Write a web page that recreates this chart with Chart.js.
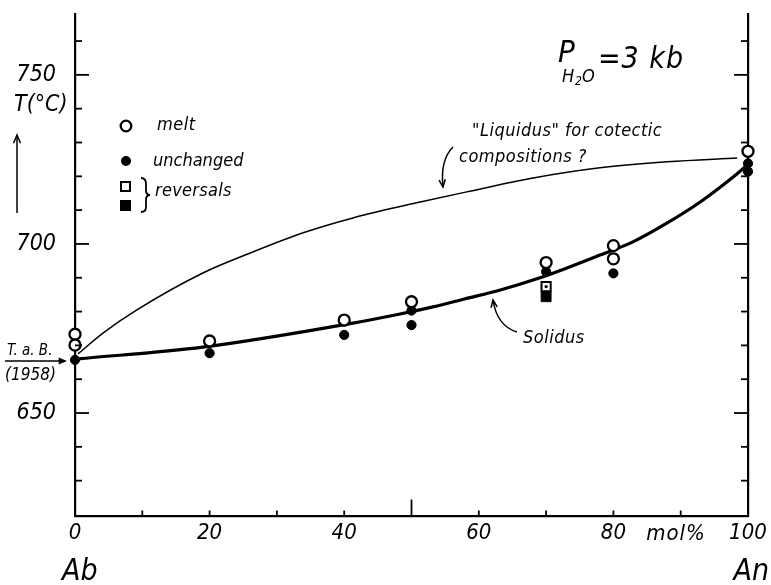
<!DOCTYPE html>
<html><head><meta charset="utf-8">
<script src="https://cdn.jsdelivr.net/npm/chart.js@4.4.0/dist/chart.umd.min.js"></script>
<style>html,body{margin:0;padding:0;background:#fff;}</style>
</head><body>
<canvas id="c" width="771" height="585"></canvas>
<script>
// ---- data (mol% An, temperature °C) ----
const xTickValues = [0, 20, 40, 60, 80, 100];
const xTickLabels = ['0', '20', '40', '60', '80', '100'];
const xMinorTicks = [10, 20, 30, 40, 50, 60, 70, 80, 90];
const xLongTicks = [50];
const yTickValues = [650, 700, 750];
const yTickLabels = ['650', '700', '750'];
const yMinorTicks = [630, 640, 650, 660, 670, 680, 690, 700, 710, 720, 730, 740, 750, 760];

const liquidusX = [0.45, 4.2, 9.2, 19.0, 26.4, 33.9, 41.3, 51.3, 58.2, 68.1, 78.0, 88.0, 98.4];
const liquidusT = [667.5, 673.7, 680.5, 691.4, 697.6, 703.3, 707.7, 712.4, 715.4, 719.5, 722.5, 724.3, 725.4];

const solidusX = [0.45, 19.0, 41.3, 48.3, 53.2, 58.0, 63.2, 69.1, 73.1, 78.0, 82.9, 88.0, 92.9, 97.8, 99.6];
const solidusT = [666.0, 669.5, 676.6, 679.3, 681.4, 683.8, 686.4, 690.0, 692.9, 696.7, 700.6, 706.2, 712.4, 719.8, 722.8];

const meltX = [0, 0, 20, 40, 50, 70, 80, 80, 100];
const meltT = [673.3, 670.1, 671.3, 677.5, 682.9, 694.5, 699.5, 695.6, 727.4];

const unchangedX = [0, 20, 40, 50, 50, 70, 80, 100, 100];
const unchangedT = [665.7, 667.7, 673.1, 680.3, 676.0, 691.8, 691.3, 723.8, 721.4];

const reversalOpenX = [70];
const reversalOpenT = [687.4];
const reversalFilledX = [70];
const reversalFilledT = [684.4];

const yMin = 619.4, yMax = 768;

const FF = "'DejaVu Sans Condensed','DejaVu Sans',sans-serif";
const pts = (xs, ys) => xs.map((x, i) => ({x: x, y: ys[i]}));

function txt(ctx, s, x, y, size, align, ls) {
  ctx.save();
  ctx.font = 'italic ' + size + 'px ' + FF;
  ctx.letterSpacing = (ls || 0) + 'px';
  ctx.textAlign = align || 'left';
  ctx.textBaseline = 'middle';
  ctx.fillStyle = '#000';
  ctx.fillText(s, x, y);
  ctx.restore();
}
function arrowHead(ctx, x, y, ang, len, filled) {
  ctx.beginPath();
  ctx.moveTo(x - len * Math.cos(ang - 0.4), y - len * Math.sin(ang - 0.4));
  ctx.lineTo(x, y);
  ctx.lineTo(x - len * Math.cos(ang + 0.4), y - len * Math.sin(ang + 0.4));
  if (filled) { ctx.closePath(); ctx.fill(); } else ctx.stroke();
}
function curveArrow(ctx, x0, y0, cx, cy, x1, y1) {
  ctx.beginPath();
  ctx.moveTo(x0, y0);
  ctx.quadraticCurveTo(cx, cy, x1, y1);
  ctx.stroke();
  arrowHead(ctx, x1, y1, Math.atan2(y1 - cy, x1 - cx), 8, false);
}

const decor = {
  id: 'decor',
  afterDraw(chart) {
    const ctx = chart.ctx, a = chart.chartArea;
    const xs = chart.scales.x, ys = chart.scales.y;
    ctx.save();
    ctx.strokeStyle = '#000'; ctx.fillStyle = '#000';
    // inward tick marks
    ctx.lineWidth = 1.8;
    yMinorTicks.forEach(v => {
      const py = ys.getPixelForValue(v);
      const L = yTickValues.includes(v) ? 14 : 7;
      ctx.beginPath(); ctx.moveTo(a.left, py); ctx.lineTo(a.left + L, py); ctx.stroke();
      ctx.beginPath(); ctx.moveTo(a.right, py); ctx.lineTo(a.right - L, py); ctx.stroke();
    });
    xMinorTicks.forEach(v => {
      const px = xs.getPixelForValue(v);
      const L = xLongTicks.includes(v) ? 17 : 6;
      ctx.beginPath(); ctx.moveTo(px, a.bottom); ctx.lineTo(px, a.bottom - L); ctx.stroke();
    });

    // axis annotations
    txt(ctx, 'T(°C)', 14, 105, 23, 'left', 0);
    ctx.lineWidth = 1.5;
    ctx.beginPath(); ctx.moveTo(17, 213); ctx.lineTo(17, 136); ctx.stroke();
    arrowHead(ctx, 17, 135, -Math.PI / 2, 9, false);
    txt(ctx, 'mol%', 676, 534, 22, 'center', 1);
    txt(ctx, 'Ab', 62, 572, 30, 'left', 0);
    txt(ctx, 'An', 769, 572, 30, 'right', 0);

    // T.a.B. (1958)
    txt(ctx, 'T. a. B.', 7, 351, 15, 'left', 0);
    txt(ctx, '(1958)', 5, 376, 17, 'left', 0);
    ctx.lineWidth = 1.5;
    ctx.beginPath(); ctx.moveTo(5, 361); ctx.lineTo(62, 361); ctx.stroke();
    arrowHead(ctx, 67, 361, 0, 9, true);

    // P_H2O = 3 kb
    txt(ctx, 'P', 558, 54, 31, 'left', 0);
    txt(ctx, 'H', 562, 77, 18, 'left', 0);
    txt(ctx, '2', 575, 82, 12, 'left', 0);
    txt(ctx, 'O', 582, 77, 18, 'left', 0);
    txt(ctx, '=3 kb', 598, 60, 30, 'left', 1);

    // legend
    ctx.lineWidth = 2.3;
    ctx.fillStyle = '#fff';
    ctx.beginPath(); ctx.arc(126, 126, 5.3, 0, Math.PI * 2); ctx.fill(); ctx.stroke();
    ctx.fillStyle = '#000';
    ctx.beginPath(); ctx.arc(126, 161, 5, 0, Math.PI * 2); ctx.fill();
    ctx.lineWidth = 2;
    ctx.strokeRect(121, 182, 9, 9);
    ctx.fillRect(120, 200, 11, 11);
    ctx.lineWidth = 1.8;
    ctx.beginPath();
    ctx.moveTo(141, 178);
    ctx.quadraticCurveTo(146, 178, 146, 184);
    ctx.lineTo(146, 190);
    ctx.quadraticCurveTo(146, 195, 150, 195);
    ctx.quadraticCurveTo(146, 195, 146, 200);
    ctx.lineTo(146, 207);
    ctx.quadraticCurveTo(146, 212, 141, 212);
    ctx.stroke();
    txt(ctx, 'melt', 157, 125, 18, 'left', 0.5);
    txt(ctx, 'unchanged', 153, 161, 18, 'left', 0);
    txt(ctx, 'reversals', 155, 191, 18, 'left', 0.3);

    // curve labels
    txt(ctx, '"Liquidus" for cotectic', 472, 131, 18, 'left', 0.5);
    txt(ctx, 'compositions ?', 459, 157, 18, 'left', 0.5);
    ctx.lineWidth = 1.5;
    curveArrow(ctx, 453, 147, 440, 160, 443, 187);
    txt(ctx, 'Solidus', 523, 338, 18, 'left', 0.5);
    curveArrow(ctx, 517, 332, 497, 326, 493, 300);
    ctx.restore();
  }
};

new Chart(document.getElementById('c'), {
  type: 'scatter',
  data: {
    datasets: [
      {label: 'reversal dot', data: pts(reversalOpenX, reversalOpenT), pointStyle: 'circle', pointRadius: 1.6,
       backgroundColor: '#000', borderColor: '#000', borderWidth: 0, order: 0, clip: false},
      {label: 'melt', data: pts(meltX, meltT), pointStyle: 'circle', pointRadius: 5.5,
       backgroundColor: '#fff', borderColor: '#000', borderWidth: 2.3, order: 1, clip: false},
      {label: 'unchanged', data: pts(unchangedX, unchangedT), pointStyle: 'circle', pointRadius: 4.6,
       backgroundColor: '#000', borderColor: '#000', borderWidth: 1, order: 1, clip: false},
      {label: 'reversal open', data: pts(reversalOpenX, reversalOpenT), pointStyle: 'rect', pointRadius: 6.5,
       backgroundColor: '#fff', borderColor: '#000', borderWidth: 2, order: 1, clip: false},
      {label: 'reversal filled', data: pts(reversalFilledX, reversalFilledT), pointStyle: 'rect', pointRadius: 7,
       backgroundColor: '#000', borderColor: '#000', borderWidth: 1, order: 1, clip: false},
      {label: 'Liquidus', data: pts(liquidusX, liquidusT), showLine: true, pointRadius: 0,
       borderColor: '#000', borderWidth: 1.5, cubicInterpolationMode: 'monotone', order: 5, clip: false},
      {label: 'Solidus', data: pts(solidusX, solidusT), showLine: true, pointRadius: 0,
       borderColor: '#000', borderWidth: 3.2, cubicInterpolationMode: 'monotone', order: 5, clip: false}
    ]
  },
  options: {
    responsive: false,
    animation: false,
    devicePixelRatio: 1,
    layout: {padding: {left: 0, right: 23, top: 14, bottom: 0}},
    plugins: {legend: {display: false}, tooltip: {enabled: false}},
    scales: {
      x: {
        type: 'linear', min: 0, max: 100,
        grid: {display: false, drawTicks: false},
        border: {display: true, color: '#000', width: 2.2},
        afterBuildTicks: s => { s.ticks = xTickValues.map(v => ({value: v})); },
        afterFit: s => { s.height = 68.5; s.paddingLeft = 0; s.paddingRight = 0; },
        ticks: {autoSkip: false, maxRotation: 0, padding: 4, color: '#000',
          font: {family: FF, size: 22, style: 'italic'},
          callback: (v, i) => xTickLabels[i]}
      },
      y: {
        type: 'linear', position: 'left', min: yMin, max: yMax,
        grid: {display: false, drawTicks: false},
        border: {display: true, color: '#000', width: 2.2},
        afterBuildTicks: s => { s.ticks = yTickValues.map(v => ({value: v})); },
        afterFit: s => { s.width = 75; s.paddingTop = 0; s.paddingBottom = 0; },
        ticks: {autoSkip: false, padding: 19, color: '#000',
          font: {family: FF, size: 23, style: 'italic'},
          callback: (v, i) => yTickLabels[i]}
      },
      y2: {
        type: 'linear', position: 'right', min: yMin, max: yMax,
        grid: {display: false, drawTicks: false},
        border: {display: true, color: '#000', width: 2.2},
        ticks: {display: false},
        afterFit: s => { s.width = 0; s.paddingTop = 0; s.paddingBottom = 0; }
      }
    }
  },
  plugins: [decor]
});
</script>
</body></html>
